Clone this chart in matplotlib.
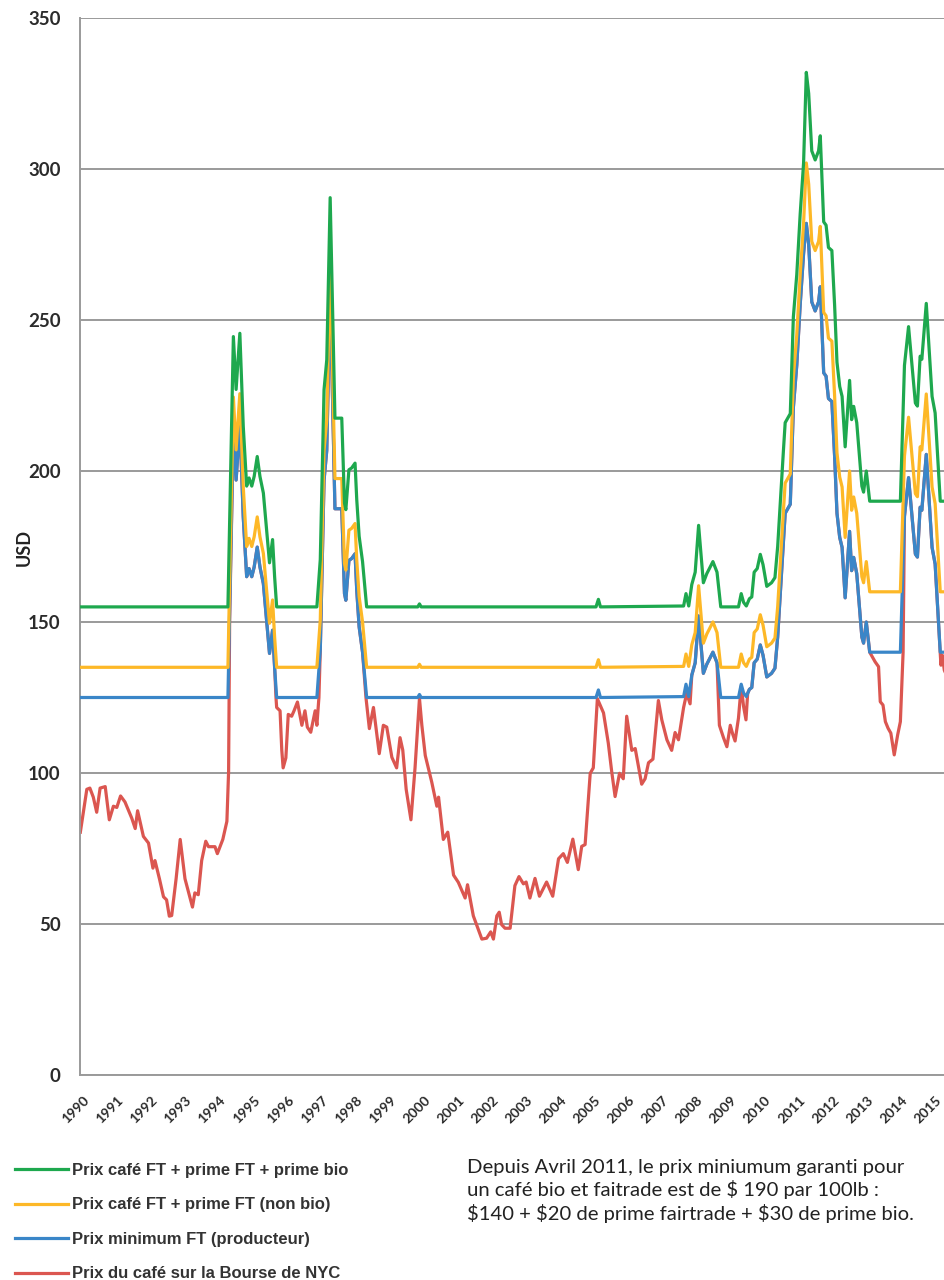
import numpy as np
import matplotlib
matplotlib.use("Agg")
import matplotlib.pyplot as plt

# ---- data (decimal years, USD / 100 lb) ----
t_ft = [1989.92, 1994.25, 1994.41, 1994.49, 1994.60, 1994.70, 1994.80, 1994.87, 1994.95, 1995.02,
        1995.11, 1995.19, 1995.29, 1995.41, 1995.47, 1995.56, 1995.62, 1995.68, 1996.86, 1996.96,
        1997.07, 1997.15, 1997.25, 1997.39, 1997.59, 1997.67, 1997.71, 1997.80, 1997.88, 1997.98,
        1998.03, 1998.10, 1998.20, 1998.32, 1999.82, 1999.87, 1999.92, 2005.05, 2005.12, 2005.18,
        2007.62, 2007.69, 2007.77, 2007.86, 2007.96, 2008.06, 2008.20, 2008.30, 2008.48, 2008.60,
        2008.71, 2009.23, 2009.31, 2009.38, 2009.46, 2009.55, 2009.62, 2009.69, 2009.78, 2009.87,
        2009.95, 2010.06, 2010.20, 2010.30, 2010.38, 2010.47, 2010.55, 2010.60, 2010.75, 2010.84,
        2010.94, 2011.04, 2011.14, 2011.22, 2011.29, 2011.38, 2011.48, 2011.58, 2011.63, 2011.73,
        2011.80, 2011.87, 2011.97, 2012.05, 2012.12, 2012.20, 2012.27, 2012.36, 2012.49, 2012.55,
        2012.61, 2012.70, 2012.85, 2012.90, 2012.98, 2013.08, 2013.98, 2014.10, 2014.22, 2014.42,
        2014.48, 2014.56, 2014.61, 2014.74, 2014.91, 2015.00, 2015.15, 2015.35]

ft_min = [125, 125, 214.5, 197, 215.6, 184.8, 165, 167.7, 165, 168.2,
          174.8, 168.2, 162.7, 147.3, 139.6, 147.3, 135, 125, 125, 140.7,
          196.9, 206.8, 260.5, 187.5, 187.5, 159.4, 157.2, 170.4, 171, 172.6,
          160.5, 148.4, 140, 125, 125, 126, 125, 125, 127.5, 125,
          125.3, 129.4, 125.3, 132.4, 136.5, 152, 133, 136, 140, 136.5,
          125, 125, 129.4, 126.5, 125.3, 127.7, 128.3, 136.5, 137.7, 142.4,
          139, 131.8, 133, 134.7, 145, 162, 177, 186, 189, 221,
          235, 255, 272, 282, 275, 256, 253, 256, 261, 232.5,
          231.4, 224, 223, 205, 186, 178, 174.7, 158, 180, 167,
          171.4, 166, 145, 143, 150, 140, 140, 185, 197.8, 172.5,
          171.5, 188, 187, 205.5, 174.7, 169.2, 140, 140]

ft_nonbio = [135, 135, 224.5, 207, 225.6, 194.8, 175, 177.7, 175, 178.2,
             184.8, 178.2, 172.7, 157.3, 149.6, 157.3, 145, 135, 135, 150.7,
             206.9, 216.8, 270.5, 197.5, 197.5, 169.4, 167.2, 180.4, 181, 182.6,
             170.5, 158.4, 150, 135, 135, 136, 135, 135, 137.5, 135,
             135.3, 139.4, 135.3, 142.4, 146.5, 162, 143, 146, 150, 146.5,
             135, 135, 139.4, 136.5, 135.3, 137.7, 138.3, 146.5, 147.7, 152.4,
             149, 141.8, 143, 144.7, 155, 172, 187, 196, 199, 231,
             245, 265, 282, 302, 295, 276, 273, 276, 281, 252.5,
             251.4, 244, 243, 225, 206, 198, 194.7, 178, 200, 187,
             191.4, 186, 165, 163, 170, 160, 160, 205, 217.8, 192.5,
             191.5, 208, 207, 225.5, 194.7, 189.2, 160, 160]

ft_bio = [155, 155, 244.5, 227, 245.6, 214.8, 195, 197.7, 195, 198.2,
          204.8, 198.2, 192.7, 177.3, 169.6, 177.3, 165, 155, 155, 170.7,
          226.9, 236.8, 290.5, 217.5, 217.5, 189.4, 187.2, 200.4, 201, 202.6,
          190.5, 178.4, 170, 155, 155, 156, 155, 155, 157.5, 155,
          155.3, 159.4, 155.3, 162.4, 166.5, 182, 163, 166, 170, 166.5,
          155, 155, 159.4, 156.5, 155.3, 157.7, 158.3, 166.5, 167.7, 172.4,
          169, 161.8, 163, 164.7, 175, 192, 207, 216, 219, 251,
          265, 285, 302, 332, 325, 306, 303, 306, 311, 282.5,
          281.4, 274, 273, 255, 236, 228, 224.7, 208, 230, 217,
          221.4, 216, 195, 193, 200, 190, 190, 235, 247.8, 222.5,
          221.5, 238, 237, 255.5, 224.7, 219.2, 190, 190]

t_nyc = [1989.92, 1990.11, 1990.20, 1990.30, 1990.40, 1990.50, 1990.65, 1990.77, 1990.89, 1990.99,
         1991.10, 1991.23, 1991.43, 1991.53, 1991.60, 1991.77, 1991.92, 1992.05, 1992.11, 1992.24,
         1992.36, 1992.45, 1992.53, 1992.60, 1992.73, 1992.85, 1992.99, 1993.21, 1993.28, 1993.38,
         1993.48, 1993.60, 1993.68, 1993.87, 1993.94, 1994.10, 1994.22, 1994.27, 1994.30, 1994.41,
         1994.49, 1994.60, 1994.70, 1994.80, 1994.87, 1994.95, 1995.02, 1995.11, 1995.19, 1995.29,
         1995.41, 1995.47, 1995.56, 1995.62, 1995.66, 1995.68, 1995.78, 1995.83, 1995.87, 1995.95,
         1996.02, 1996.12, 1996.19, 1996.29, 1996.42, 1996.51, 1996.58, 1996.68, 1996.81, 1996.86,
         1996.92, 1996.96, 1997.07, 1997.15, 1997.25, 1997.39, 1997.59, 1997.67, 1997.71, 1997.80,
         1997.88, 1997.98, 1998.03, 1998.10, 1998.20, 1998.30, 1998.40, 1998.52, 1998.69, 1998.81,
         1998.91, 1999.06, 1999.20, 1999.30, 1999.38, 1999.48, 1999.62, 1999.74, 1999.87, 1999.94,
         2000.04, 2000.23, 2000.38, 2000.43, 2000.57, 2000.70, 2000.87, 2001.01, 2001.21, 2001.28,
         2001.45, 2001.70, 2001.84, 2001.96, 2002.04, 2002.14, 2002.21, 2002.28, 2002.38, 2002.53,
         2002.67, 2002.79, 2002.92, 2003.00, 2003.11, 2003.26, 2003.39, 2003.60, 2003.78, 2003.95,
         2004.09, 2004.21, 2004.37, 2004.53, 2004.63, 2004.73, 2004.88, 2004.97, 2005.09, 2005.27,
         2005.41, 2005.51, 2005.61, 2005.74, 2005.85, 2005.95, 2006.10, 2006.20, 2006.39, 2006.49,
         2006.59, 2006.72, 2006.88, 2006.98, 2007.13, 2007.27, 2007.37, 2007.47, 2007.62, 2007.71,
         2007.81, 2007.86, 2007.96, 2008.06, 2008.20, 2008.30, 2008.48, 2008.60, 2008.67, 2008.79,
         2008.89, 2008.99, 2009.06, 2009.13, 2009.23, 2009.31, 2009.38, 2009.45, 2009.50, 2009.55,
         2009.62, 2009.69, 2009.78, 2009.87, 2009.95, 2010.06, 2010.20, 2010.30, 2010.38, 2010.47,
         2010.55, 2010.60, 2010.75, 2010.84, 2010.94, 2011.04, 2011.14, 2011.22, 2011.29, 2011.38,
         2011.48, 2011.58, 2011.63, 2011.73, 2011.80, 2011.87, 2011.97, 2012.05, 2012.12, 2012.20,
         2012.27, 2012.36, 2012.49, 2012.55, 2012.61, 2012.70, 2012.85, 2012.90, 2012.98, 2013.08,
         2013.24, 2013.34, 2013.39, 2013.47, 2013.54, 2013.62, 2013.70, 2013.80, 2013.90, 2013.98,
         2014.06, 2014.10, 2014.22, 2014.42, 2014.48, 2014.56, 2014.61, 2014.74, 2014.91, 2015.00,
         2015.15, 2015.17, 2015.21, 2015.27, 2015.35]

nyc = [80.4, 94.6, 95, 92, 87, 95, 95.5, 84.5, 89, 88.6,
       92.4, 90.4, 85, 81.6, 87.5, 79, 76.8, 68.5, 71, 65,
       59, 58, 52.6, 52.8, 65, 78, 65, 55.6, 60.3, 59.7,
       71, 77.4, 75.6, 75.6, 73.3, 78, 84, 100.5, 150, 214.5,
       197, 215.6, 184.8, 165, 167.7, 165, 168.2, 174.8, 168.2, 162.7,
       147.3, 139.6, 147.3, 135, 125, 121.7, 120.6, 107.6, 101.7, 105,
       119.4, 118.8, 120.6, 123.5, 115.8, 120.6, 115.2, 113.5, 120.6, 115.8,
       125, 140.7, 196.9, 206.8, 260.5, 187.5, 187.5, 159.4, 157.2, 170.4,
       171, 172.6, 160.5, 148.4, 140, 125, 114.7, 121.7, 106.4, 115.8,
       115.2, 105.2, 101.7, 111.7, 107.6, 94.6, 84.5, 101.7, 124.7, 115.8,
       105.8, 97, 89, 92, 78, 80.4, 66.2, 63.8, 58.6, 63,
       52.7, 45, 45.3, 47.4, 45, 52.7, 53.9, 49.8, 48.6, 48.6,
       62.7, 65.7, 63.3, 63.9, 58.6, 65.1, 59.2, 63.9, 59.2, 71.6,
       73.3, 70.4, 78.1, 68, 75.7, 76.3, 99.9, 101.7, 124.6, 119.9,
       109.9, 100.5, 92.2, 99.9, 98.1, 118.8, 107.5, 108.1, 96.3, 98.1,
       103.4, 104.6, 124, 117.6, 111, 107.5, 113.4, 111, 121.7, 126.4,
       122.9, 132.4, 136.5, 152, 133, 136, 140, 136.5, 115.8, 111.7,
       108.7, 115.8, 112.9, 110.6, 118.2, 128.8, 122, 117.6, 126.4, 127.7,
       128.3, 136.5, 137.7, 142.4, 139, 131.8, 133, 134.7, 145, 162,
       177, 186, 189, 221, 235, 255, 272, 282, 275, 256,
       253, 256, 261, 232.5, 231.4, 224, 223, 205, 186, 178,
       174.7, 158, 180, 167, 171.4, 166, 145, 143, 150, 140,
       136.8, 135.2, 123.6, 122.5, 117, 114.8, 113.2, 106, 112.6, 117,
       140, 185, 197.8, 172.5, 171.5, 188, 187, 205.5, 174.7, 169.2,
       140, 135.7, 139, 134, 132]

years = list(range(1990, 2016))
y_ticks = [0, 50, 100, 150, 200, 250, 300, 350]

labels = ["Prix café FT + prime FT + prime bio",
          "Prix café FT + prime FT (non bio)",
          "Prix minimum FT (producteur)",
          "Prix du café sur la Bourse de NYC"]
colors = ["#1ea84e", "#fdb827", "#3a86c8", "#db5650"]
note = ("Depuis Avril 2011, le prix miniumum garanti pour\n"
        "un café bio et faitrade est de $ 190 par 100lb :\n"
        "$140 + $20 de prime fairtrade + $30 de prime bio.")

# ---- figure ----
fig = plt.figure(figsize=(9.44, 12.8), dpi=100)
ax = fig.add_axes([80 / 944, 205 / 1280, 864 / 944, 1057 / 1280])

lw = 2.3
l_nyc, = ax.plot(t_nyc, nyc, color=colors[3], lw=lw, zorder=2)
l_min, = ax.plot(t_ft, ft_min, color=colors[2], lw=lw, zorder=3)
l_nb, = ax.plot(t_ft, ft_nonbio, color=colors[1], lw=lw, zorder=4)
l_bio, = ax.plot(t_ft, ft_bio, color=colors[0], lw=lw, zorder=5)

ax.set_xlim(1989.91, 2015.26)
ax.set_ylim(0, 350)
ax.set_yticks(y_ticks)
ax.set_xticks(years)
ax.set_xticklabels([str(y) for y in years], rotation=45, ha="right",
                   rotation_mode="anchor", fontsize=10, fontweight="bold",
                   color="#2b2b2b", family="Lato")
ax.set_yticklabels([str(v) for v in y_ticks], fontsize=13.5, color="#2b2b2b",
                   family="Lato", fontweight="bold")
ax.tick_params(axis="both", length=0)
ax.tick_params(axis="x", pad=14)
ax.tick_params(axis="y", pad=14)
ax.grid(axis="y", color="#9a9a9a", lw=1.4)
ax.set_axisbelow(True)
for s in ["top", "right"]:
    ax.spines[s].set_visible(False)
for s in ["left", "bottom"]:
    ax.spines[s].set_color("#9a9a9a")
    ax.spines[s].set_linewidth(1.4)

fig.text(24 / 944, 1 - 547 / 1280, "USD", rotation=90, ha="center", va="center",
         fontsize=13, fontweight="bold", color="#222222", family="Lato")

fig.legend([l_bio, l_nb, l_min, l_nyc], labels, loc="upper left",
           bbox_to_anchor=(15 / 944, 1 - 1163 / 1280), frameon=False,
           prop={"family": ["Liberation Sans Narrow", "Liberation Sans"],
                 "weight": "bold", "size": 12},
           labelcolor="#333333", handlelength=3.2, handletextpad=0.2,
           labelspacing=1.17, borderpad=0, borderaxespad=0)

fig.text(467 / 944, 1 - 1159 / 1280, note, ha="left", va="top",
         fontsize=14.6, color="#222222", family="Lato", fontweight="normal",
         linespacing=1.27)

fig.savefig("out.png", dpi=100)
